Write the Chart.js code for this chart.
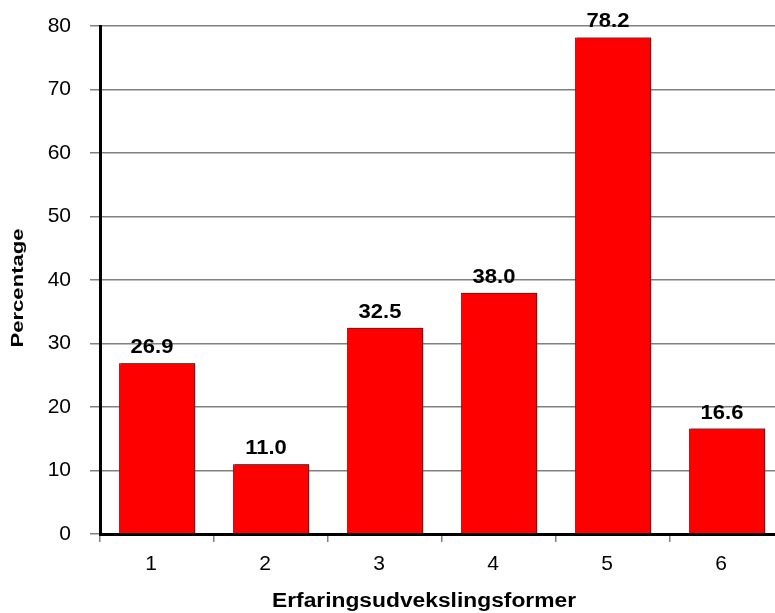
<!DOCTYPE html>
<html>
<head>
<meta charset="utf-8">
<script src="https://cdn.jsdelivr.net/npm/chart.js@4.4.1/dist/chart.umd.min.js"></script>
<style>
  html, body { margin: 0; padding: 0; background: #fff; overflow: hidden; }
  #wrap { width: 790px; height: 613px; }
</style>
</head>
<body>
<div id="wrap"><canvas id="c" width="790" height="613"></canvas></div>
<script>
const categories = ['1', '2', '3', '4', '5', '6'];
const percentages = [26.9, 11.0, 32.5, 38.0, 78.2, 16.6];
const yTicks = [0, 10, 20, 30, 40, 50, 60, 70, 80];
const xTitle = 'Erfaringsudvekslingsformer';
const yTitle = 'Percentage';

const FONT = '"Liberation Sans", Arial, sans-serif';

// draws text widened horizontally (in the text's own direction)
function wideText(ctx, text, x, y, sx, rot) {
  ctx.save();
  ctx.translate(x, y);
  if (rot) ctx.rotate(rot);
  ctx.scale(sx, 1);
  ctx.fillText(text, 0, 0);
  ctx.restore();
}

// bar shadow, value labels and axis titles
const barDecor = {
  id: 'barDecor',
  beforeDatasetsDraw(chart) {
    const ctx = chart.ctx;
    ctx.save();
    ctx.shadowColor = '#a00000';
    ctx.shadowOffsetX = 2;
    ctx.shadowOffsetY = 0;
    ctx.shadowBlur = 0;
  },
  afterDatasetsDraw(chart) {
    const ctx = chart.ctx;
    ctx.restore();
    const meta = chart.getDatasetMeta(0);
    ctx.save();
    ctx.fillStyle = '#000';
    ctx.textAlign = 'center';
    ctx.textBaseline = 'alphabetic';
    ctx.font = 'bold 20px ' + FONT;
    meta.data.forEach((bar, i) => {
      wideText(ctx, percentages[i].toFixed(1), bar.x - 5, bar.y - 10, 1.1, 0);
    });
    ctx.font = 'bold 20px ' + FONT;
    wideText(ctx, xTitle, 424, 607, 1.14, 0);
    ctx.font = 'bold 17px ' + FONT;
    ctx.textBaseline = 'middle';
    wideText(ctx, yTitle, 18, 288, 1.3, -Math.PI / 2);
    ctx.restore();
  }
};

new Chart(document.getElementById('c'), {
  type: 'bar',
  data: {
    labels: categories,
    datasets: [{
      data: percentages,
      backgroundColor: '#ff0000',
      borderColor: '#222',
      borderWidth: 1,
      barPercentage: 0.67,
      categoryPercentage: 1.0
    }]
  },
  options: {
    responsive: false,
    animation: false,
    devicePixelRatio: 1,
    layout: { padding: { top: 26, right: 6, left: 0, bottom: 0 } },
    plugins: {
      legend: { display: false },
      tooltip: { enabled: false }
    },
    scales: {
      x: {
        offset: true,
        grid: {
          offset: true,
          drawOnChartArea: false,
          tickLength: 8,
          color: '#808080',
          lineWidth: 1.5
        },
        border: { color: '#000', width: 3 },
        ticks: {
          color: '#000',
          font: { family: FONT, size: 21 },
          padding: 10,
          labelOffset: -6
        },
        afterFit(scale) {
          scale.height = 79;
          scale.paddingLeft = 0;
          scale.paddingRight = 0;
        }
      },
      y: {
        min: 0,
        max: 80,
        afterBuildTicks(scale) { scale.ticks = yTicks.map(v => ({ value: v })); },
        grid: {
          color: '#808080',
          lineWidth: 1.5,
          tickLength: 10
        },
        border: { color: '#000', width: 3 },
        ticks: {
          color: '#000',
          font: { family: FONT, size: 21 },
          padding: 19
        },
        afterFit(scale) {
          scale.width = 100;
          scale.paddingTop = 0;
          scale.paddingBottom = 0;
        }
      }
    }
  },
  plugins: [barDecor]
});
</script>
</body>
</html>
